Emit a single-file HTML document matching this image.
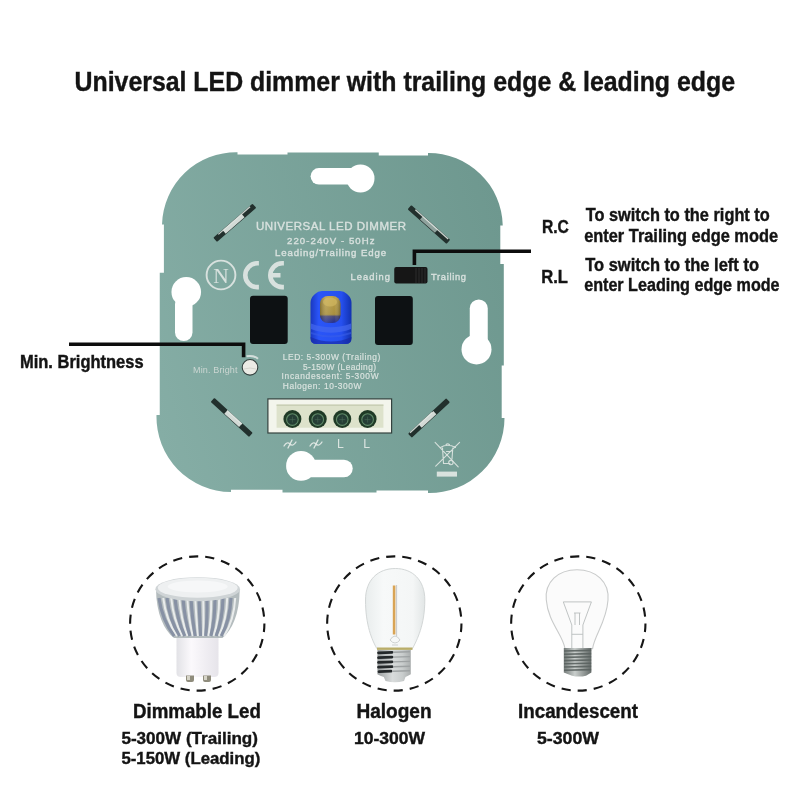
<!DOCTYPE html>
<html><head><meta charset="utf-8">
<style>
html,body{margin:0;padding:0;background:#fff;width:800px;height:800px;overflow:hidden}
svg{display:block;will-change:transform}
text{font-family:"Liberation Sans",sans-serif}
.b{font-weight:bold;fill:#141414;stroke:#141414;stroke-width:0.4}
.lb{fill:#d8e1de;stroke:#d8e1de;stroke-width:0.35}
</style></head><body>
<svg width="800" height="800" viewBox="0 0 800 800">
<defs>
<linearGradient id="pg" gradientUnits="userSpaceOnUse" x1="535.2" y1="264.6" x2="125.5" y2="379.2">
<stop offset="0" stop-color="#6d978e"/>
<stop offset="1" stop-color="#86aea6"/>
</linearGradient>
</defs>
<rect width="800" height="800" fill="#fff"/>
<!-- title -->
<text id="t_title" class="b" x="74.50" y="91" font-size="27.6" textLength="660.50" lengthAdjust="spacingAndGlyphs">Universal LED dimmer with trailing edge &amp; leading edge</text>

<!-- plate -->
<path fill="url(#pg)" d="
M237.5 152.3 L237.5 154.4 L287.5 154.4 L287.5 152.4 L378.75 152.4 L378.75 155.6 L428 155.6 L428 153
A74 74 0 0 1 502.75 225.5 L500.3 225.5 L500.3 264 L503.8 264 L503.8 365.5 L501.7 365.5 L501.7 418 L504.5 418
A75 75 0 0 1 428 493 L428 490.6 L376.5 490.6 L376.5 492.5 L282.5 492.5 L282.5 489.75 L231 489.75 L231 492
A75 75 0 0 1 156.5 415 L159.75 415 L159.75 272.8 L163.9 272.8 L163.9 224.5 L162 224.5
A74 74 0 0 1 237.5 152.3 Z"/>
<!-- keyholes -->
<g fill="#fff">
<circle cx="186.25" cy="291.9" r="14.8"/><rect x="175" y="295" width="17.5" height="46" rx="8.75"/>
<circle cx="360.5" cy="178.5" r="14"/><rect x="310.6" y="168" width="55" height="16.6" rx="8.3"/>
<circle cx="476.5" cy="349.4" r="15"/><rect x="469.75" y="299.4" width="18" height="55" rx="9"/>
<circle cx="301" cy="465.9" r="14.9"/><rect x="295" y="459.75" width="57.75" height="17.5" rx="8.75"/>
</g>
<!-- diagonal slots -->
<g transform="translate(234.8 222.8) rotate(-41)"><rect x="-26" y="-2.8" width="52" height="5.6" rx="1" fill="#22302d"/><rect x="-14" y="-2.2" width="25" height="4.4" fill="#d3dad6"/><rect x="-20" y="-2.7" width="42" height="1.3" fill="#e6ede9" opacity=".85"/></g>
<g transform="translate(428.9 224.5) rotate(41.7)"><rect x="-26" y="-2.8" width="52" height="5.6" rx="1" fill="#22302d"/><rect x="-10" y="-2.2" width="20" height="4.4" fill="#8fa29d"/><rect x="-20" y="-2.7" width="44" height="1.3" fill="#e6ede9" opacity=".85"/></g>
<g transform="translate(231.7 417.4) rotate(42.4)"><rect x="-26" y="-2.8" width="52" height="5.6" rx="1" fill="#22302d"/><rect x="-8" y="-2.2" width="20" height="4.4" fill="#d3dad6"/><rect x="-8" y="-2.7" width="20" height="1.3" fill="#e6ede9" opacity=".85"/></g>
<g transform="translate(429 418) rotate(-42.9)"><rect x="-26" y="-2.8" width="52" height="5.6" rx="1" fill="#22302d"/><rect x="-12" y="-2.2" width="20" height="4.4" fill="#d3dad6"/><rect x="-24" y="-2.7" width="30" height="1.3" fill="#e6ede9" opacity=".85"/></g>
<!-- plate text -->
<g class="lb">
<text x="256" y="229.8" font-size="11.5" textLength="150" lengthAdjust="spacing">UNIVERSAL LED DIMMER</text>
<text x="287" y="243.75" font-size="9.6" textLength="87.5" lengthAdjust="spacing">220-240V - 50Hz</text>
<text x="275" y="256" font-size="9.6" textLength="111" lengthAdjust="spacing">Leading/Trailing Edge</text>
<text x="350.5" y="280" font-size="9.3" textLength="39.5" lengthAdjust="spacing">Leading</text>
<text x="431" y="280" font-size="9.3" textLength="35" lengthAdjust="spacing">Trailing</text>
</g>
<g fill="#dbe4e0" stroke="#dbe4e0" stroke-width="0.15">
<text x="193" y="372.5" font-size="9" textLength="44.5" lengthAdjust="spacing" fill="#cbd6d2" stroke="none">Min. Bright</text>
<text x="282.75" y="360.1" font-size="8.4" textLength="97.5" lengthAdjust="spacing">LED: 5-300W (Trailing)</text>
<text x="303" y="370" font-size="8.4" textLength="73" lengthAdjust="spacing">5-150W (Leading)</text>
<text x="281.6" y="379.4" font-size="8.4" textLength="97" lengthAdjust="spacing">Incandescent: 5-300W</text>
<text x="282.75" y="389.3" font-size="8.4" textLength="78.75" lengthAdjust="spacing">Halogen: 10-300W</text>
<text x="337" y="447.5" font-size="12.2" stroke="none">L</text>
<text x="363.3" y="447.5" font-size="12.2" stroke="none">L</text>
</g>
<g fill="none" stroke="#dfe7e3" stroke-width="1.3" stroke-linecap="round">
<path d="M284 446 q3 -5 6 -2 q3 3 6 -2 M288 448 l4 -8"/>
<path d="M310 446 q3 -5 6 -2 q3 3 6 -2 M314 448 l4 -8"/>
</g>
<!-- N and CE -->
<circle cx="221" cy="275" r="14.4" fill="none" stroke="#d8e1de" stroke-width="1.9"/>
<text x="221" y="283" style="font-family:'Liberation Serif',serif" font-size="21" text-anchor="middle" fill="#d8e1de" textLength="15.5" lengthAdjust="spacingAndGlyphs">N</text>
<path d="M258.9 263.3 L257.2 263.3 A11.9 11.9 0 0 0 257.2 287.1 L258.9 287.1" fill="none" stroke="#d8e1de" stroke-width="4.6"/>
<path d="M283.9 263.3 L282.2 263.3 A11.9 11.9 0 0 0 282.2 287.1 L283.9 287.1 M272.5 275.2 L280.5 275.2" fill="none" stroke="#d8e1de" stroke-width="4.6"/>
<!-- windows -->
<rect x="250" y="295.8" width="37.7" height="48.2" rx="3" fill="#0d1113"/>
<rect x="375" y="296" width="37.8" height="49" rx="3" fill="#0d1113"/>
<!-- potentiometer -->
<defs>
<linearGradient id="shaft" x1="0" y1="0" x2="0" y2="1">
<stop offset="0" stop-color="#bba04a"/><stop offset=".68" stop-color="#a88f3e"/><stop offset=".76" stop-color="#4a4a78"/><stop offset="1" stop-color="#222e90"/>
</linearGradient>
<linearGradient id="shaftx" x1="0" x2="1">
<stop offset="0" stop-color="#000" stop-opacity=".25"/><stop offset=".3" stop-color="#fff" stop-opacity=".12"/><stop offset=".7" stop-color="#fff" stop-opacity="0"/><stop offset="1" stop-color="#000" stop-opacity=".3"/>
</linearGradient>
<linearGradient id="potb" x1="0" y1="0" x2="1" y2="0">
<stop offset="0" stop-color="#1a38c0"/><stop offset=".2" stop-color="#2a55f8"/><stop offset=".75" stop-color="#2650f0"/><stop offset="1" stop-color="#1232b0"/>
</linearGradient>
</defs>
<path d="M322 291 H340 Q344 291 347 294 L348.5 295.5 Q351.5 298.5 351.5 303 V338 Q351.5 344 345.5 344 H316.5 Q310.5 344 310.5 338 V303 Q310.5 298.5 313.5 295.5 L315 294 Q318 291 322 291 Z" fill="url(#potb)"/>
<path d="M310.5 337 Q331 346 351.5 337 L351.5 338 Q351.5 344 345.5 344 L316.5 344 Q310.5 344 310.5 338 Z" fill="#1828a0" opacity=".6"/>
<path d="M311 323.5 Q331 331 351 323.5 L351 329 Q331 336.5 311 329 Z" fill="#4468f0" opacity=".7"/>
<path d="M311 332 Q331 339 351 332 L351 334 Q331 341 311 334 Z" fill="#3a5ee8" opacity=".55"/>
<rect x="320" y="296" width="20.5" height="27" rx="8" fill="url(#shaft)"/>
<rect x="320" y="296" width="20.5" height="27" rx="8" fill="url(#shaftx)"/>
<ellipse cx="330" cy="302" rx="7" ry="4.5" fill="#d8bf68" opacity=".55"/>
<!-- min bright knob -->
<circle cx="250" cy="367.3" r="7.8" fill="#ecebe5" stroke="#34403e" stroke-width="1.1"/>
<path d="M244 369 Q250 367 256 369" fill="none" stroke="#cfcfc8" stroke-width="0.8"/>
<path d="M246.5 356.3 Q254 355 258 358.8" fill="none" stroke="#d3dedb" stroke-width="2"/>
<!-- terminal block -->
<rect x="267.9" y="398.9" width="123.7" height="34.1" fill="#f3f5ec" stroke="#34423f" stroke-width="1.2"/>
<rect x="276.6" y="404.5" width="106.8" height="23.25" fill="#dde2cb"/>
<rect x="276.6" y="404.5" width="106.8" height="1.5" fill="#c9cfb5"/>
<circle cx="292.4" cy="419" r="9" fill="#1f3a26"/><circle cx="292.4" cy="419.6" r="5.8" fill="#253e35" stroke="#5f8a68" stroke-width="1.1"/><path d="M289.4 419.6 h6 M292.4 416.6 v6" stroke="#4a6a58" stroke-width="0.6"/><circle cx="317.75" cy="419" r="9" fill="#1f3a26"/><circle cx="317.75" cy="419.6" r="5.8" fill="#253e35" stroke="#5f8a68" stroke-width="1.1"/><path d="M314.75 419.6 h6 M317.75 416.6 v6" stroke="#4a6a58" stroke-width="0.6"/><circle cx="342.25" cy="419" r="9" fill="#1f3a26"/><circle cx="342.25" cy="419.6" r="5.8" fill="#253e35" stroke="#5f8a68" stroke-width="1.1"/><path d="M339.25 419.6 h6 M342.25 416.6 v6" stroke="#4a6a58" stroke-width="0.6"/><circle cx="367.6" cy="419" r="9" fill="#1f3a26"/><circle cx="367.6" cy="419.6" r="5.8" fill="#253e35" stroke="#5f8a68" stroke-width="1.1"/><path d="M364.6 419.6 h6 M367.6 416.6 v6" stroke="#4a6a58" stroke-width="0.6"/>
<!-- WEEE -->
<g fill="none" stroke="#d6e0dc" stroke-width="1.1" stroke-linecap="round">
<path d="M442.5 448 L443.5 463.5 L450 463.5 M452.8 448 L452 459 M440.5 447.5 Q447.5 443 455.5 447.5 M446 444.6 Q447.5 442.8 449.5 444.6 M446.5 451.5 H451 M435.1 442.3 L458.2 466.8 M459.6 442.3 L435.7 466.2"/>
<circle cx="450.9" cy="462.6" r="2.2"/>
</g>
<rect x="436.8" y="471.6" width="20.2" height="5" fill="#d9e2de"/>
<!-- switch -->
<rect x="394.25" y="267" width="33.25" height="16.4" rx="2" fill="#161616"/>
<g stroke="#333" stroke-width="0.8"><path d="M416 268 V283 M419 268 V283 M422 268 V283 M425 268 V283"/></g>
<!-- pointer lines -->
<g fill="none" stroke="#0d0d0d" stroke-width="3.6">
<path d="M69 344.3 H243.6 V357.2"/>
<path d="M531 251.3 H414.4 V265"/>
</g>
<!-- right text -->
<text id="t_rc" class="b" x="542.00" y="232.75" font-size="18" textLength="26.90" lengthAdjust="spacingAndGlyphs">R.C</text>
<text id="t_rl" class="b" x="541.20" y="282.8" font-size="18" textLength="26.70" lengthAdjust="spacingAndGlyphs">R.L</text>
<text id="t_r1" class="b" x="585.70" y="220.6" font-size="18" textLength="184.10" lengthAdjust="spacingAndGlyphs">To switch to the right to</text>
<text id="t_r2" class="b" x="584.20" y="242" font-size="18" textLength="193.80" lengthAdjust="spacingAndGlyphs">enter Trailing edge mode</text>
<text id="t_r3" class="b" x="585.20" y="270.8" font-size="18" textLength="173.80" lengthAdjust="spacingAndGlyphs">To switch to the left to</text>
<text id="t_r4" class="b" x="584.20" y="291.2" font-size="18" textLength="195.40" lengthAdjust="spacingAndGlyphs">enter Leading edge mode</text>
<text id="t_mb" class="b" x="20.00" y="367.5" font-size="17.5" textLength="123.60" lengthAdjust="spacingAndGlyphs">Min. Brightness</text>

<!-- dashed circles -->
<g fill="none" stroke="#161616" stroke-width="2.1" stroke-dasharray="9.2 7.028" stroke-dashoffset="0.6">
<circle cx="197.25" cy="623.5" r="67.15"/>
<circle cx="394.3" cy="623.5" r="67.15"/>
<circle cx="578.3" cy="623.5" r="67.15"/>
</g>

<!-- bottom labels -->
<text id="t_d1" class="b" x="133.00" y="717.7" font-size="20" textLength="127.80" lengthAdjust="spacingAndGlyphs">Dimmable Led</text>
<text id="t_d2" class="b" x="121.40" y="743.9" font-size="17.3" textLength="136.60" lengthAdjust="spacingAndGlyphs">5-300W (Trailing)</text>
<text id="t_d3" class="b" x="121.40" y="764.4" font-size="17.3" textLength="139.00" lengthAdjust="spacingAndGlyphs">5-150W (Leading)</text>
<text id="t_h1" class="b" x="356.40" y="717.7" font-size="20" textLength="75.20" lengthAdjust="spacingAndGlyphs">Halogen</text>
<text id="t_h2" class="b" x="354.00" y="744" font-size="17.3" textLength="71.00" lengthAdjust="spacingAndGlyphs">10-300W</text>
<text id="t_i1" class="b" x="518.00" y="717.7" font-size="20" textLength="120.00" lengthAdjust="spacingAndGlyphs">Incandescent</text>
<text id="t_i2" class="b" x="537.00" y="744" font-size="17.3" textLength="62.00" lengthAdjust="spacingAndGlyphs">5-300W</text>
<!-- GU10 LED bulb -->
<defs>
<linearGradient id="alu" x1="0" x2="1">
<stop offset="0" stop-color="#c9cccd"/><stop offset=".15" stop-color="#8d9294"/><stop offset=".3" stop-color="#e8eaea"/><stop offset=".45" stop-color="#9aa0a2"/><stop offset=".6" stop-color="#dfe2e2"/><stop offset=".75" stop-color="#8a8f91"/><stop offset=".9" stop-color="#d0d3d3"/><stop offset="1" stop-color="#9da2a3"/>
</linearGradient>
<linearGradient id="base" x1="0" x2="1">
<stop offset="0" stop-color="#e2e2e6"/><stop offset=".35" stop-color="#fbf9fc"/><stop offset="1" stop-color="#e6e4ea"/>
</linearGradient>
<linearGradient id="e27" x1="0" x2="1">
<stop offset="0" stop-color="#8e9293"/><stop offset=".35" stop-color="#e0e2e2"/><stop offset="1" stop-color="#5e6263"/>
</linearGradient>
</defs>
<path d="M176.5 636 L218.5 636 L218.5 673 Q218.5 677 214 677 L181 677 Q176.5 677 176.5 673 Z" fill="url(#base)"/>
<path d="M186 675.5 h8 v4.5 q0 2 -2 2 h-4 q-2 0 -2 -2 Z" fill="#8f8c7c"/><rect x="187" y="676" width="3" height="4" fill="#d6d4c8"/>
<path d="M203 675.5 h8 v4.5 q0 2 -2 2 h-4 q-2 0 -2 -2 Z" fill="#8f8c7c"/><rect x="204" y="676" width="3" height="4" fill="#d6d4c8"/>
<path d="M156 590 C156.5 614 164 630 174 638 L222.4 638 C232 630 239.5 614 239.7 590 Z" fill="#b4bcbe"/>
<path d="M159 598 Q162.0 620 174.3 636" stroke="#7f8aa0" stroke-width="3.2" opacity=".85" fill="none"/><path d="M163.2 598 Q166.0 620 177.1 636" stroke="#eceeee" stroke-width="2" fill="none" opacity=".95"/><path d="M167 598 Q169.6 620 179.6 636" stroke="#7f8aa0" stroke-width="3.2" opacity=".85" fill="none"/><path d="M171.2 598 Q173.5 620 182.3 636" stroke="#eceeee" stroke-width="2" fill="none" opacity=".95"/><path d="M175 598 Q177.1 620 184.8 636" stroke="#7f8aa0" stroke-width="3.2" opacity=".85" fill="none"/><path d="M179.2 598 Q181.1 620 187.5 636" stroke="#eceeee" stroke-width="2" fill="none" opacity=".95"/><path d="M183 598 Q184.7 620 190.0 636" stroke="#7f8aa0" stroke-width="3.2" opacity=".85" fill="none"/><path d="M187.2 598 Q188.7 620 192.8 636" stroke="#eceeee" stroke-width="2" fill="none" opacity=".95"/><path d="M191 598 Q192.3 620 195.2 636" stroke="#7f8aa0" stroke-width="3.2" opacity=".85" fill="none"/><path d="M195.2 598 Q196.3 620 198.0 636" stroke="#eceeee" stroke-width="2" fill="none" opacity=".95"/><path d="M199 598 Q199.8 620 200.5 636" stroke="#7f8aa0" stroke-width="3.2" opacity=".85" fill="none"/><path d="M203.2 598 Q203.8 620 203.2 636" stroke="#eceeee" stroke-width="2" fill="none" opacity=".95"/><path d="M207 598 Q207.4 620 205.7 636" stroke="#7f8aa0" stroke-width="3.2" opacity=".85" fill="none"/><path d="M211.2 598 Q211.4 620 208.4 636" stroke="#eceeee" stroke-width="2" fill="none" opacity=".95"/><path d="M215 598 Q215.0 620 210.9 636" stroke="#7f8aa0" stroke-width="3.2" opacity=".85" fill="none"/><path d="M219.2 598 Q219.0 620 213.6 636" stroke="#eceeee" stroke-width="2" fill="none" opacity=".95"/><path d="M223 598 Q222.6 620 216.1 636" stroke="#7f8aa0" stroke-width="3.2" opacity=".85" fill="none"/><path d="M227.2 598 Q226.5 620 218.9 636" stroke="#eceeee" stroke-width="2" fill="none" opacity=".95"/><path d="M231 598 Q230.1 620 221.3 636" stroke="#7f8aa0" stroke-width="3.2" opacity=".85" fill="none"/><path d="M235.2 598 Q234.1 620 224.1 636" stroke="#eceeee" stroke-width="2" fill="none" opacity=".95"/>
<ellipse cx="197.7" cy="589.2" rx="42.3" ry="12" fill="#cfd4d6"/>
<ellipse cx="197.7" cy="587.8" rx="40" ry="10" fill="#eef0f1"/>
<ellipse cx="197.7" cy="586.5" rx="30" ry="6" fill="#f6f7f8"/>
<path d="M270 0" />
<!-- filament S14 bulb -->
<defs>
<linearGradient id="glass" x1="0" x2="1">
<stop offset="0" stop-color="#e9eded"/><stop offset=".3" stop-color="#f7f9f9"/><stop offset=".8" stop-color="#f4f6f6"/><stop offset="1" stop-color="#e2e6e6"/>
</linearGradient>
<linearGradient id="e27b" x1="0" x2="1">
<stop offset="0" stop-color="#9a9e9f"/><stop offset=".45" stop-color="#d9dcdc"/><stop offset=".75" stop-color="#c9cdcd"/><stop offset="1" stop-color="#a9adad"/>
</linearGradient>
</defs>
<path d="M376.8 648.5 C372 640 365.5 625 365.5 600 C365.5 580 378 568.5 395.3 568.5 C412.6 568.5 424.8 580 424.8 600 C424.8 625 417 640 412.5 648.5 Z" fill="url(#glass)" stroke="#d3d7d7" stroke-width="1"/>
<rect x="392.8" y="585.5" width="2.6" height="49" fill="#d9a455"/>
<path d="M396.6 585 V636" stroke="#c4c4c4" stroke-width="0.9" fill="none"/>
<path d="M390 640 q5 -8 10 0 q-5 6 -10 0 M392 645 h6" stroke="#c8cccc" stroke-width="0.9" fill="none"/>
<rect x="377" y="647.5" width="35.5" height="2.4" fill="#b9ad6a"/>
<path d="M377.4 650 L410.8 650 L410.8 674.3 Q408 676 405.5 677 L404 681 Q395 683.5 385.5 681 L383.8 677 Q380 676 377.4 674.3 Z" fill="url(#e27b)"/>
<g stroke="#24282a" stroke-width="2.8" stroke-linecap="round"><path d="M378.5 652.8 L392 652.3 M378.5 657.6 L392 657.1 M378.5 662.4 L392 661.9 M378.5 667.2 L392 666.7 M379 671.6 L391 671.2"/></g>
<g stroke="#9ea2a3" stroke-width="1.4"><path d="M393 652.3 L410 651.8 M393 657.1 L410 656.6 M393 661.9 L410 661.4 M393 666.7 L410 666.2 M393 671.2 L410 670.8"/></g>

<!-- incandescent A bulb -->
<path d="M565 648.6 C563 635 548 622 546.3 600 C544.5 582 558 569.75 577 569.75 C596 569.75 609.5 582 608 600 C606.5 622 594.5 635 592.6 648.6 Z" fill="#fbfbfb" stroke="#c9cbcb" stroke-width="1.1"/>
<path d="M563.3 601.9 L591.4 601.9 M563.3 601.9 L571.8 625 L571.8 648 M591.4 601.9 L582.9 625 L582.9 648 M571.8 634.3 L582.9 634.3 M575 613 V625 M579.5 613 V625 M574 613 H580.5" fill="none" stroke="#b9bdbd" stroke-width="0.9"/>
<defs><linearGradient id="e27c" x1="0" x2="1"><stop offset="0" stop-color="#737a78"/><stop offset=".4" stop-color="#c9cecc"/><stop offset="1" stop-color="#646b69"/></linearGradient></defs>
<path d="M563.8 648 L591.4 648 L591.4 672.5 L586 675.7 Q579 677.5 572 675.7 L563.8 672.5 Z" fill="url(#e27c)"/>
<path d="M564 651.0 L591.2 650.4 M564 654.2 L591.2 653.6 M564 657.4 L591.2 656.8 M564 660.6 L591.2 660.0 M564 663.8 L591.2 663.2 M564 667.0 L591.2 666.4 M564 670.2 L591.2 669.6 " stroke="#5a6260" stroke-width="1.6" opacity=".9"/>
</svg>
</body></html>
